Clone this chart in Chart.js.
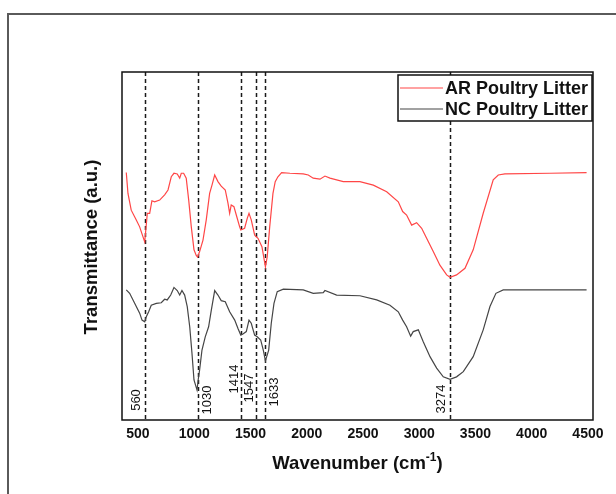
<!DOCTYPE html>
<html>
<head>
<meta charset="utf-8">
<script src="https://cdn.jsdelivr.net/npm/chart.js@4"></script>
<style>
  html, body { margin: 0; padding: 0; background: #fff; overflow: hidden; }
  #wrap { position: relative; width: 616px; height: 494px; }
  #frame { position: absolute; left: 7px; top: 13px; width: 700px; height: 600px; border: 2px solid #5a5a5a; box-sizing: border-box; }
  canvas { position: absolute; left: 0; top: 0; }
</style>
</head>
<body>
<div id="wrap">
  <div id="frame"></div>
  <canvas id="ftirChart" width="616" height="494"></canvas>
</div>
<script>
// AR poultry litter (red, upper trace)
const arWavenumber = [396, 411, 440, 485, 515, 544, 560, 583, 604, 624, 648, 693, 737, 767, 796, 820, 849, 871, 885, 906, 929, 951, 974, 998, 1018, 1030, 1048, 1078, 1107, 1137, 1158, 1182, 1211, 1240, 1276, 1300, 1315, 1329, 1353, 1374, 1404, 1414, 1448, 1472, 1487, 1507, 1537, 1547, 1567, 1602, 1633, 1649, 1671, 1700, 1720, 1744, 1777, 1851, 1969, 2014, 2058, 2118, 2162, 2207, 2325, 2473, 2592, 2711, 2814, 2853, 2888, 2933, 2977, 3022, 3066, 3125, 3184, 3244, 3274, 3332, 3407, 3480, 3569, 3658, 3703, 3762, 4162, 4488];
const arTransmittance = [71.1, 65.1, 60.3, 57.5, 55.5, 52.7, 51.2, 59.4, 59.4, 63.0, 62.7, 63.2, 64.7, 66.1, 69.9, 70.9, 70.7, 69.5, 70.9, 70.9, 69.5, 63.2, 55.5, 48.9, 47.3, 46.8, 48.4, 51.7, 57.5, 65.1, 67.5, 70.4, 68.5, 67.2, 66.1, 62.3, 59.4, 61.8, 61.3, 58.9, 55.5, 54.6, 55.1, 58.0, 59.4, 57.5, 53.2, 52.8, 52.2, 49.8, 44.0, 46.9, 55.5, 65.1, 68.5, 69.9, 71.1, 70.9, 70.7, 70.4, 69.5, 69.2, 70.1, 69.5, 68.5, 68.5, 67.5, 65.6, 62.7, 59.9, 58.9, 56.0, 56.7, 55.1, 52.2, 48.4, 44.5, 41.7, 41.0, 41.7, 43.6, 48.9, 59.4, 69.0, 70.4, 70.7, 70.9, 71.1];

// NC poultry litter (dark grey, lower trace)
const ncWavenumber = [396, 426, 456, 485, 515, 536, 560, 574, 595, 618, 663, 707, 737, 760, 791, 820, 849, 871, 891, 915, 938, 960, 980, 998, 1025, 1035, 1048, 1069, 1098, 1128, 1152, 1182, 1211, 1240, 1276, 1315, 1360, 1389, 1414, 1433, 1463, 1487, 1507, 1537, 1560, 1591, 1614, 1633, 1662, 1685, 1709, 1738, 1792, 1969, 2058, 2147, 2162, 2266, 2473, 2622, 2740, 2814, 2853, 2888, 2924, 2947, 2992, 3036, 3096, 3155, 3214, 3274, 3332, 3392, 3480, 3569, 3629, 3682, 3747, 4488];
const ncTransmittance = [37.4, 36.4, 34.5, 32.6, 30.7, 28.7, 28.2, 29.7, 31.1, 33.0, 33.5, 33.7, 34.7, 34.5, 35.9, 38.1, 37.2, 35.9, 37.2, 35.9, 32.6, 26.8, 19.2, 11.5, 8.6, 11.5, 14.4, 20.1, 23.9, 26.8, 31.6, 37.2, 35.9, 34.3, 34.0, 31.1, 28.7, 26.3, 24.4, 24.7, 25.4, 28.7, 27.8, 24.4, 23.9, 23.0, 20.1, 17.0, 20.1, 27.8, 33.5, 36.9, 37.6, 37.4, 36.4, 36.6, 37.2, 35.9, 35.7, 34.5, 33.0, 31.1, 28.7, 26.8, 24.1, 25.4, 25.9, 22.5, 18.2, 14.9, 12.4, 11.7, 12.4, 13.9, 18.2, 25.9, 32.6, 36.4, 37.4, 37.4];

const peakPositions = [560, 1030, 1414, 1547, 1633, 3274];
const xTicks = [500, 1000, 1500, 2000, 2500, 3000, 3500, 4000, 4500];

const seriesLabels = ['AR Poultry Litter', 'NC Poultry Litter'];

const FONT = '"Liberation Sans", Arial, sans-serif';

// where each peak label sits relative to its dashed line
const peakLabelPlacement = {
    560: { dx: -8, cy: 400 },
    1030: { dx: 10, cy: 400 },
    1414: { dx: -6, cy: 379 },
    1547: { dx: -6, cy: 388 },
    1633: { dx: 9, cy: 392 },
    3274: { dx: -9, cy: 399 }
};

const toPoints = (xs, ys) => xs.map((x, i) => ({ x: x, y: ys[i] }));

const peakLines = {
    id: 'peakLines',
    beforeDatasetsDraw(chart) {
        const { ctx, chartArea, scales } = chart;
        ctx.save();
        ctx.strokeStyle = '#1a1a1a';
        ctx.lineWidth = 1.5;
        ctx.setLineDash([4, 3]);
        peakPositions.forEach(p => {
            const x = Math.round(scales.x.getPixelForValue(p)) + 0.5;
            ctx.beginPath();
            ctx.moveTo(x, chartArea.top);
            ctx.lineTo(x, chartArea.bottom);
            ctx.stroke();
        });
        ctx.restore();
    },
    afterDatasetsDraw(chart) {
        const { ctx, chartArea, scales } = chart;
        ctx.save();
        ctx.fillStyle = '#111';
        ctx.font = '13px ' + FONT;
        ctx.textAlign = 'center';
        ctx.textBaseline = 'middle';
        peakPositions.forEach(p => {
            const place = peakLabelPlacement[p];
            const x = scales.x.getPixelForValue(p) + place.dx;
            ctx.save();
            ctx.translate(x, place.cy);
            ctx.rotate(-Math.PI / 2);
            ctx.fillText(String(p), 0, 0);
            ctx.restore();
        });

        // plot frame
        ctx.strokeStyle = '#111';
        ctx.lineWidth = 1.5;
        ctx.strokeRect(chartArea.left, chartArea.top, chartArea.right - chartArea.left, chartArea.bottom - chartArea.top);

        // legend box
        const lx = 398, ly = 75, lw = 194, lh = 46;
        ctx.fillStyle = '#fff';
        ctx.fillRect(lx, ly, lw, lh);
        ctx.strokeRect(lx, ly, lw, lh);
        ctx.font = 'bold 18px ' + FONT;
        ctx.textAlign = 'left';
        chart.data.datasets.forEach((ds, i) => {
            const y = ly + 13 + i * 21;
            ctx.strokeStyle = ds.borderColor;
            ctx.lineWidth = 1.2;
            ctx.beginPath();
            ctx.moveTo(lx + 2, y);
            ctx.lineTo(lx + 45, y);
            ctx.stroke();
            ctx.fillStyle = '#111';
            ctx.fillText(ds.label, lx + 47, y + 1);
        });

        // axis titles
        ctx.fillStyle = '#111';
        const big = 'bold 18.5px ' + FONT;
        const small = 'bold 12px ' + FONT;
        ctx.font = big;
        const main = 'Wavenumber (cm';
        const sup = '-1';
        const tail = ')';
        const wMain = ctx.measureText(main).width;
        const wTail = ctx.measureText(tail).width;
        ctx.font = small;
        const wSup = ctx.measureText(sup).width;
        const cx = (chartArea.left + chartArea.right) / 2;
        let sx = cx - (wMain + wSup + wTail) / 2;
        const by = 469;
        ctx.textBaseline = 'alphabetic';
        ctx.font = big;
        ctx.fillText(main, sx, by);
        sx += wMain;
        ctx.font = small;
        ctx.fillText(sup, sx, by - 8);
        sx += wSup;
        ctx.font = big;
        ctx.fillText(tail, sx, by);

        ctx.save();
        ctx.translate(92, 247);
        ctx.rotate(-Math.PI / 2);
        ctx.textAlign = 'center';
        ctx.textBaseline = 'middle';
        ctx.font = big;
        ctx.fillText('Transmittance (a.u.)', 0, 0);
        ctx.restore();
        ctx.restore();
    }
};

new Chart(document.getElementById('ftirChart').getContext('2d'), {
    type: 'line',
    data: {
        datasets: [
            {
                label: seriesLabels[0],
                data: toPoints(arWavenumber, arTransmittance),
                borderColor: '#ff4646',
                borderWidth: 1.2,
                pointRadius: 0,
                fill: false,
                tension: 0
            },
            {
                label: seriesLabels[1],
                data: toPoints(ncWavenumber, ncTransmittance),
                borderColor: '#454545',
                borderWidth: 1.2,
                pointRadius: 0,
                fill: false,
                tension: 0
            }
        ]
    },
    options: {
        responsive: false,
        animation: false,
        layout: { padding: { left: 122, right: 23, top: 72, bottom: 0 } },
        plugins: {
            legend: { display: false },
            tooltip: { enabled: false }
        },
        scales: {
            x: {
                type: 'linear',
                min: 358,
                max: 4545,
                grid: { display: false, drawTicks: false },
                border: { display: false },
                afterBuildTicks: scale => { scale.ticks = xTicks.map(v => ({ value: v })); },
                afterFit: scale => { scale.height = 74; },
                ticks: {
                    autoSkip: false,
                    maxRotation: 0,
                    padding: 6,
                    color: '#111',
                    font: { family: FONT, size: 14, weight: 'bold' },
                    callback: value => String(value)
                }
            },
            y: {
                display: false,
                min: 0,
                max: 100
            }
        }
    },
    plugins: [peakLines]
});
</script>
</body>
</html>
